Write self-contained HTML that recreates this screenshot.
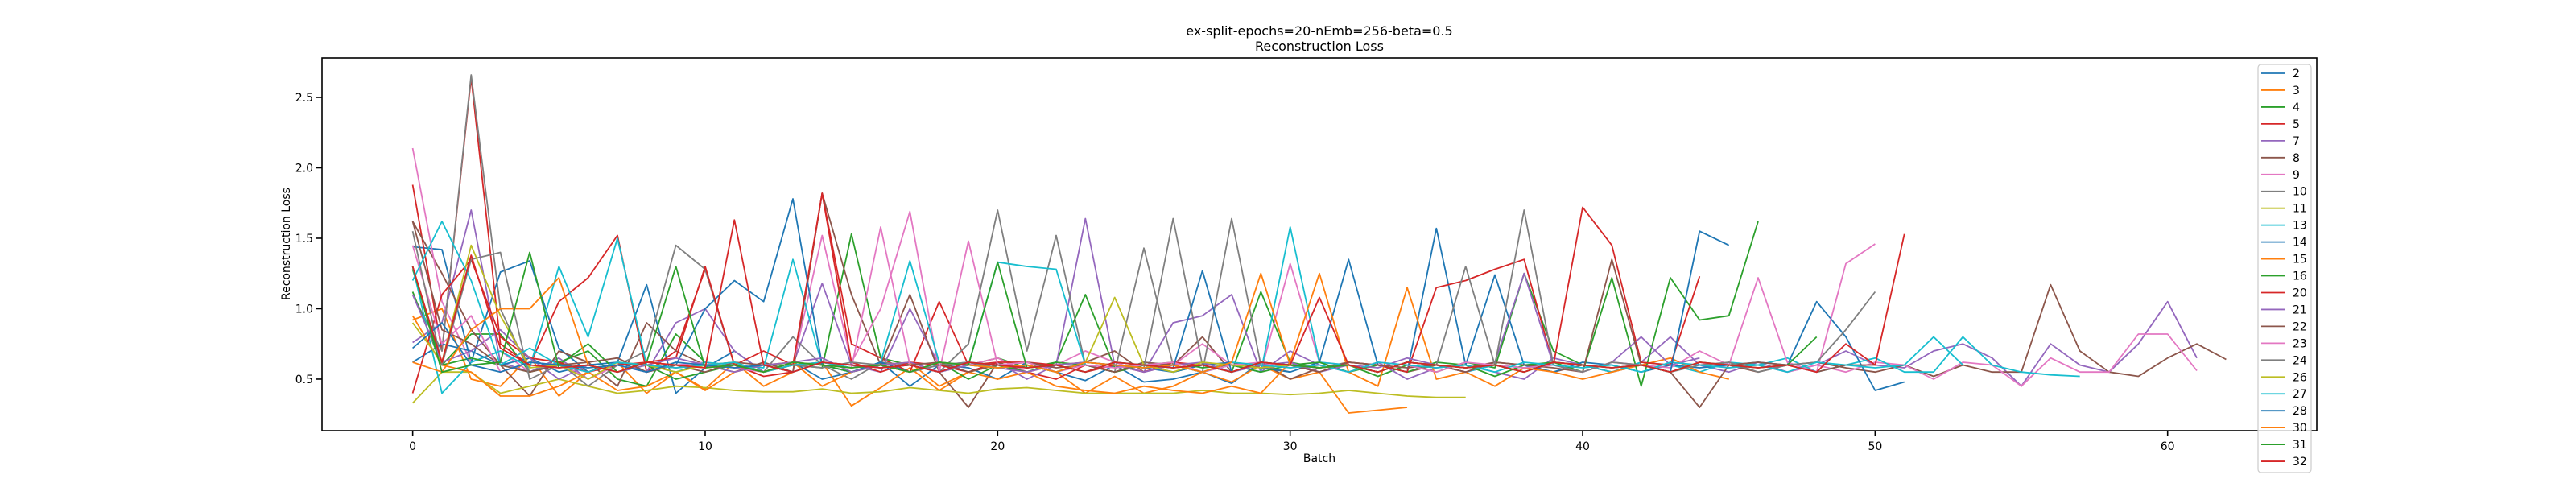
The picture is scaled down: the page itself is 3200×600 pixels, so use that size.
<!DOCTYPE html>
<html><head><meta charset="utf-8"><style>
html,body{margin:0;padding:0;background:#fff;}
svg{display:block;font-family:"DejaVu Sans","Liberation Sans",sans-serif;}
</style></head><body>
<svg id="chart" width="3200" height="600" viewBox="0 0 3200 600" xmlns="http://www.w3.org/2000/svg">
<rect x="0" y="0" width="3200" height="600" fill="#fff"/>
<text x="1639" y="44" font-size="16" text-anchor="middle">ex-split-epochs=20-nEmb=256-beta=0.5</text>
<text x="1639" y="63" font-size="16" text-anchor="middle">Reconstruction Loss</text>
<g id="plot"></g>
<g id="axes"></g>
<text x="1639" y="574" font-size="14" text-anchor="middle">Batch</text>
<text x="360" y="303" font-size="14" text-anchor="middle" transform="rotate(-90 360 303)">Reconstruction Loss</text>
<g id="legend"></g>
</svg>
<script>
const seriesNames = ["2","3","4","5","7","8","9","10","11","13","14","15","16","20","21","22","23","24","26","27","28","30","31","32"];
const s2  = [1.44,1.42,0.62,1.26,1.34,0.72,0.55,0.62,1.17,0.4,0.58,0.7,0.55,0.62,0.5,0.55,0.62,0.45,0.6,0.58,0.5,0.62,0.55,0.49,0.6,0.48,0.5,0.55,0.47,0.62,0.5];
const s3  = [0.92,1.0,0.5,0.45,0.66,0.38,0.55,0.62,0.4,0.55,0.43,0.62,0.45,0.55,0.62,0.31,0.44,0.58,0.42,0.55,0.6,0.62,0.55,0.4,0.52,0.4,0.45,0.55,0.48,0.6,0.5,0.55,0.26,0.28,0.3];
const s4  = [1.28,0.6,0.82,0.82,0.55,0.62,0.7,0.5,0.45,0.82,0.62,0.58,0.6,0.6,0.58,1.53,0.65,0.6,0.55,0.6,0.65,0.58,0.62,1.1,0.58,0.6,0.55,0.6,0.55,1.12,0.62,0.58,0.6,0.52,0.6,0.55,0.62,0.58,1.25,0.7,0.6];
const s5  = [1.88,0.7,2.64,0.75,0.6,1.05,1.22,1.52,0.55,0.7,1.28,0.6,0.52,0.55,1.82,0.75,0.65,0.55,1.05,0.6,0.62,0.55,0.5,0.6,0.55,0.6];
const s7  = [0.76,0.9,1.7,0.62,0.55,0.65,0.5,0.6,0.55,0.9,1.0,0.7,0.55,0.6,1.18,0.6,0.55,1.0,0.6,0.55,0.62,0.5,0.6,1.64,0.6,0.55,0.9,0.95,1.1,0.55,0.7,0.6,0.55,0.62,0.5,0.58,0.6,0.55,0.5,0.65,0.6,0.55,0.62,0.8,0.6,0.55,0.62,0.55,0.6,0.7,0.6,0.58,0.7,0.75,0.65,0.45,0.75,0.6,0.55,0.75,1.05,0.65];
const s8  = [1.62,1.25,0.85,0.6,0.38,0.7,0.62,0.45,0.9,0.7,0.6,0.55,0.62,0.55,1.82,1.1,0.6,1.1,0.55,0.3,0.62,0.55,0.6,0.62,0.7,0.55,0.6,0.8,0.55,0.62,0.5,0.58,0.62,0.6,0.55,0.6,0.58,0.62,0.6,0.55,0.6,0.55,0.6,0.55,0.62,0.6,0.55,0.6,0.62,0.58,0.55,0.6,0.52,0.6,0.55,0.55,1.17,0.7,0.55,0.52,0.65,0.75,0.64];
const s9  = [2.14,1.05,0.62,0.7,0.55,0.62,0.5,0.6,0.55,0.6,0.62,0.58,0.55,0.6,1.52,0.62,1.0,1.69,0.55,0.6,0.65,0.55,0.6,0.7,0.62,0.55,0.6,0.75,0.6,0.55,1.32,0.62,0.6,0.55,0.62,0.6,0.55,0.6,0.58,0.6,0.55,0.62,0.6,0.55,0.62,0.58,0.6,0.55,0.6,0.55,0.62,0.6,0.5,0.62,0.6,0.45,0.65,0.55,0.55,0.82,0.82,0.56];
const s10 = [1.1,0.7,2.66,1.0,0.55,0.62,0.45,0.6,0.7,1.45,1.28,0.6,0.55,0.8,0.6,0.5,0.62,0.6,0.55,0.75,1.7,0.7,1.52,0.6,0.55,1.43,0.6,0.55,1.64,0.6,0.55];
const s11 = [0.33,0.55,0.55,0.4,0.45,0.5,0.45,0.4,0.42,0.45,0.44,0.42,0.41,0.41,0.43,0.4,0.41,0.44,0.42,0.4,0.43,0.44,0.42,0.4,0.4,0.4,0.4,0.42,0.4,0.4,0.39,0.4,0.42,0.4,0.38,0.37,0.37];
const s13 = [1.3,0.4,0.62,0.7,0.58,1.3,0.8,1.5,0.6,0.55,0.62,0.6,0.58,1.35,0.6,0.55,0.62,1.34,0.62,0.6,1.33,1.3,1.28,0.6,0.55,0.62,0.6,0.55,0.6,0.55,1.58,0.62,0.6,0.55,0.62,0.6,0.55,0.6,0.58,0.62,0.6,0.55,0.62,0.6,0.55,0.62,0.6,0.65,0.55,0.6,0.65,0.55,0.55,0.8,0.6,0.55,0.53,0.52];
const s14 = [0.62,0.75,0.7,0.6,0.65,0.55,0.6,0.62,0.55,0.6,1.0,1.2,1.05,1.78,0.6,0.55,0.62,0.55,0.6,0.62,0.58,0.6,0.55,0.62,0.6,0.58,0.55,0.6,0.62,0.58,0.55,0.62,1.35,0.6,0.55,1.57,0.6,1.24,0.6,0.55,0.62,0.6,0.55,0.6,0.58,0.6,0.62,0.6,1.05,0.8,0.42,0.48];
const s15 = [0.95,0.6,0.55,0.38,0.38,0.45,0.55,0.42,0.45,0.55,0.42,0.55,0.6,0.62,0.45,0.55,0.6,0.62,0.45,0.55,0.5,0.55,0.45,0.42,0.4,0.45,0.42,0.4,0.45,0.4,0.62,1.25,0.55,0.45,1.15,0.5,0.55,0.45,0.58,0.55,0.5,0.55,0.6,0.65,0.55,0.5];
const s16 = [1.12,0.6,0.65,0.6,0.55,0.6,0.75,0.55,0.6,0.5,0.55,0.6,0.55,0.62,0.6,0.55,0.6,0.55,0.62,0.5,0.6,0.55,0.62,0.6,0.55,0.6,0.62,0.58,0.6,0.55,0.6,0.62,0.55,0.6,0.55,0.62,0.6,0.52,0.6,0.62,0.55,1.22,0.45,1.22,0.92,0.95,1.62];
const s20 = [0.4,1.1,1.35,0.8,0.65,0.62,0.55,0.6,0.62,0.65,1.3,0.6,0.7,0.6,1.82,0.62,0.55,0.62,0.6,0.55,0.62,0.62,0.6,0.55,0.6,0.55,0.62,0.6,0.55,0.62,0.6,0.55,0.62,0.6,0.55,1.15,1.2,1.28,1.35,0.6,1.72,1.45,0.62,0.6,1.23];
const s21 = [1.1,0.62,0.7,0.85,0.65,0.5,0.6,0.55,0.6,0.65,0.6,0.55,0.6,0.62,0.65,0.55,0.6,0.62,0.55,0.6,0.58,0.55,0.6,0.62,0.6,0.55,0.6,0.62,0.55,0.6,0.62,0.55,0.6,0.58,0.65,0.6,0.55,0.62,1.25,0.6,0.55,0.62,0.8,0.6,0.65];
const s22 = [1.62,0.85,0.75,0.6,0.55,0.6,0.62,0.65,0.55,0.6,0.55,0.62,0.6,0.55,0.62,0.6,0.58,0.6,0.62,0.55,0.6,0.62,0.58,0.6,0.55,0.62,0.6,0.55,0.62,0.58,0.6,0.55,0.62,0.6,0.58,0.6,0.55,0.62,0.6,0.58,0.55,1.35,0.6,0.55,0.3,0.6,0.62,0.6,0.55,0.6,0.6];
const s23 = [1.45,0.75,0.95,0.55,0.62,0.6,0.55,0.62,0.6,0.58,0.6,0.62,0.55,0.6,0.62,0.58,1.58,0.6,0.55,1.48,0.6,0.62,0.55,0.6,0.58,0.6,0.62,0.55,0.6,0.62,0.58,0.6,0.55,0.62,0.6,0.55,0.62,0.6,0.58,0.6,0.55,0.62,0.6,0.58,0.7,0.6,1.22,0.62,0.55,1.32,1.46];
const s24 = [1.55,0.6,1.35,1.4,0.5,0.6,0.55,0.62,0.6,0.58,0.6,0.62,0.55,0.6,0.58,0.62,0.6,0.55,0.6,0.62,0.58,0.6,0.55,0.62,0.6,0.58,1.64,0.6,0.55,0.62,0.6,0.58,0.6,0.55,0.62,0.6,1.3,0.6,1.7,0.6,0.55,0.62,0.6,0.55,0.6,0.62,0.55,0.6,0.62,0.85,1.12];
const s26 = [0.9,0.62,1.45,0.95,0.58,0.6,0.5,0.62,0.6,0.55,0.6,0.62,0.55,0.6,0.62,0.58,0.6,0.55,0.62,0.6,0.58,0.6,0.55,0.62,1.08,0.6,0.55,0.62,0.6,0.58,0.6];
const s27 = [1.2,1.62,1.2,0.6,0.72,0.6,0.55,0.62,0.6,0.58,0.6,0.62,0.55,0.6,0.62,0.58,0.6,0.55,0.62,0.6,0.58,0.6,0.55,0.62,0.6,0.58,0.6,0.55,0.62,0.6,0.58,0.6,0.55,0.62,0.6,0.58,0.6,0.55,0.62,0.6,0.58,0.6,0.55,0.62,0.6,0.58,0.6,0.55,0.62,0.6,0.58,0.6,0.8,0.6];
const s28 = [0.72,0.9,0.6,0.55,0.62,0.6,0.58,0.6,0.55,0.62,0.6,0.58,0.6,0.55,0.62,0.6,0.58,0.6,0.55,0.62,0.6,0.58,0.6,0.55,0.62,0.6,0.58,1.27,0.55,0.62,0.6,0.58,0.6,0.55,0.62,0.6,0.58,0.6,0.55,0.62,0.6,0.58,0.6,0.55,1.55,1.45];
const s30 = [0.62,0.55,0.85,1.0,1.0,1.22,0.6,0.55,0.62,0.6,0.58,0.6,0.55,0.62,0.6,0.58,0.6,0.55,0.62,0.6,0.58,0.6,0.55,0.62,0.6,0.58,0.6,0.55,0.62,1.25,0.6,0.58,0.6,0.55,0.62,0.6,0.58,0.6,0.55,0.62,0.6];
const s31 = [1.3,0.55,0.6,0.62,1.4,0.58,0.6,0.55,0.62,1.3,0.58,0.6,0.55,0.62,0.6,0.58,0.6,0.55,0.62,0.6,1.33,0.58,0.6,0.55,0.62,0.6,0.58,0.6,0.55,0.62,0.6,0.58,0.6,0.55,0.62,0.6,0.58,0.6,0.55,0.62,0.6,0.58,0.6,0.55,0.62,0.6,0.58,0.6,0.8];
const s32 = [1.3,0.62,1.38,0.72,0.6,0.58,0.6,0.55,0.62,0.6,0.58,1.63,0.6,0.55,0.62,0.6,0.58,0.6,0.55,0.62,0.6,0.58,0.6,0.55,0.62,0.6,0.58,0.6,0.55,0.62,0.6,1.08,0.6,0.55,0.62,0.6,0.58,0.6,0.55,0.62,0.6,0.58,0.6,0.55,0.62,0.6,0.58,0.6,0.55,0.75,0.6,1.53];
const seriesValues = [s2,s3,s4,s5,s7,s8,s9,s10,s11,s13,s14,s15,s16,s20,s21,s22,s23,s24,s26,s27,s28,s30,s31,s32];
const xTicks = [0,10,20,30,40,50,60];
const yTicks = [0.5,1.0,1.5,2.0,2.5];
const yTickLabels = ["0.5","1.0","1.5","2.0","2.5"];

const colors = ["#1f77b4","#ff7f0e","#2ca02c","#d62728","#9467bd","#8c564b","#e377c2","#7f7f7f","#bcbd22","#17becf"];
const L=400,R=2878,T=72,B=535;
const xmin=-3.1,xmax=65.1,ymin=0.134,ymax=2.78;
const NS="http://www.w3.org/2000/svg";
function xs(v){return L+(v-xmin)/(xmax-xmin)*(R-L);}
function ys(v){return B-(v-ymin)/(ymax-ymin)*(B-T);}
function mk(tag,attrs,parent){const e=document.createElementNS(NS,tag);for(const k in attrs)e.setAttribute(k,attrs[k]);parent.appendChild(e);return e;}

const plot=document.getElementById('plot');
const clip=mk('clipPath',{id:'pc'},document.getElementById('chart'));
mk('rect',{x:L,y:T,width:R-L,height:B-T},clip);
plot.setAttribute('clip-path','url(#pc)');
seriesValues.forEach((arr,i)=>{
  const pts=arr.map((v,j)=>xs(j).toFixed(1)+','+ys(v).toFixed(1)).join(' ');
  const pl=mk('polyline',{points:pts,fill:'none',stroke:colors[i%10],'stroke-width':1.8,'stroke-linejoin':'round'},plot);
  
  
});

const axes=document.getElementById('axes');
const frame=mk('rect',{x:L,y:T,width:R-L,height:B-T,fill:'none',stroke:'#000','stroke-width':1.6},axes);


xTicks.forEach(t=>{
  const x=xs(t);
  const tk=mk('line',{x1:x,x2:x,y1:B,y2:B+7,stroke:'#000','stroke-width':1.6},axes);
  
  
  const tx=mk('text',{x:x,y:B+24,'font-size':14,'text-anchor':'middle'},axes);
  tx.textContent=String(t);
  
  
});
yTicks.forEach((t,i)=>{
  const y=ys(t);
  const tk=mk('line',{x1:L-7,x2:L,y1:y,y2:y,stroke:'#000','stroke-width':1.6},axes);
  
  
  const tx=mk('text',{x:L-11,y:y+5,'font-size':14,'text-anchor':'end'},axes);
  tx.textContent=yTickLabels[i];
  
  
});

const lg=document.getElementById('legend');
const box=mk('rect',{x:2805,y:80,width:66,height:507,rx:4,fill:'#fff','fill-opacity':0.8,stroke:'#ccc','stroke-width':1.2},lg);


seriesNames.forEach((n,i)=>{
  const y=91+i*20.96;
  const g=mk('g',{},lg);
  
  
  mk('line',{x1:2809,x2:2838,y1:y,y2:y,stroke:colors[i%10],'stroke-width':1.8},g);
  const t=mk('text',{x:2848,y:y+5,'font-size':14},g);
  t.textContent=n;
});
</script>
</body></html>
